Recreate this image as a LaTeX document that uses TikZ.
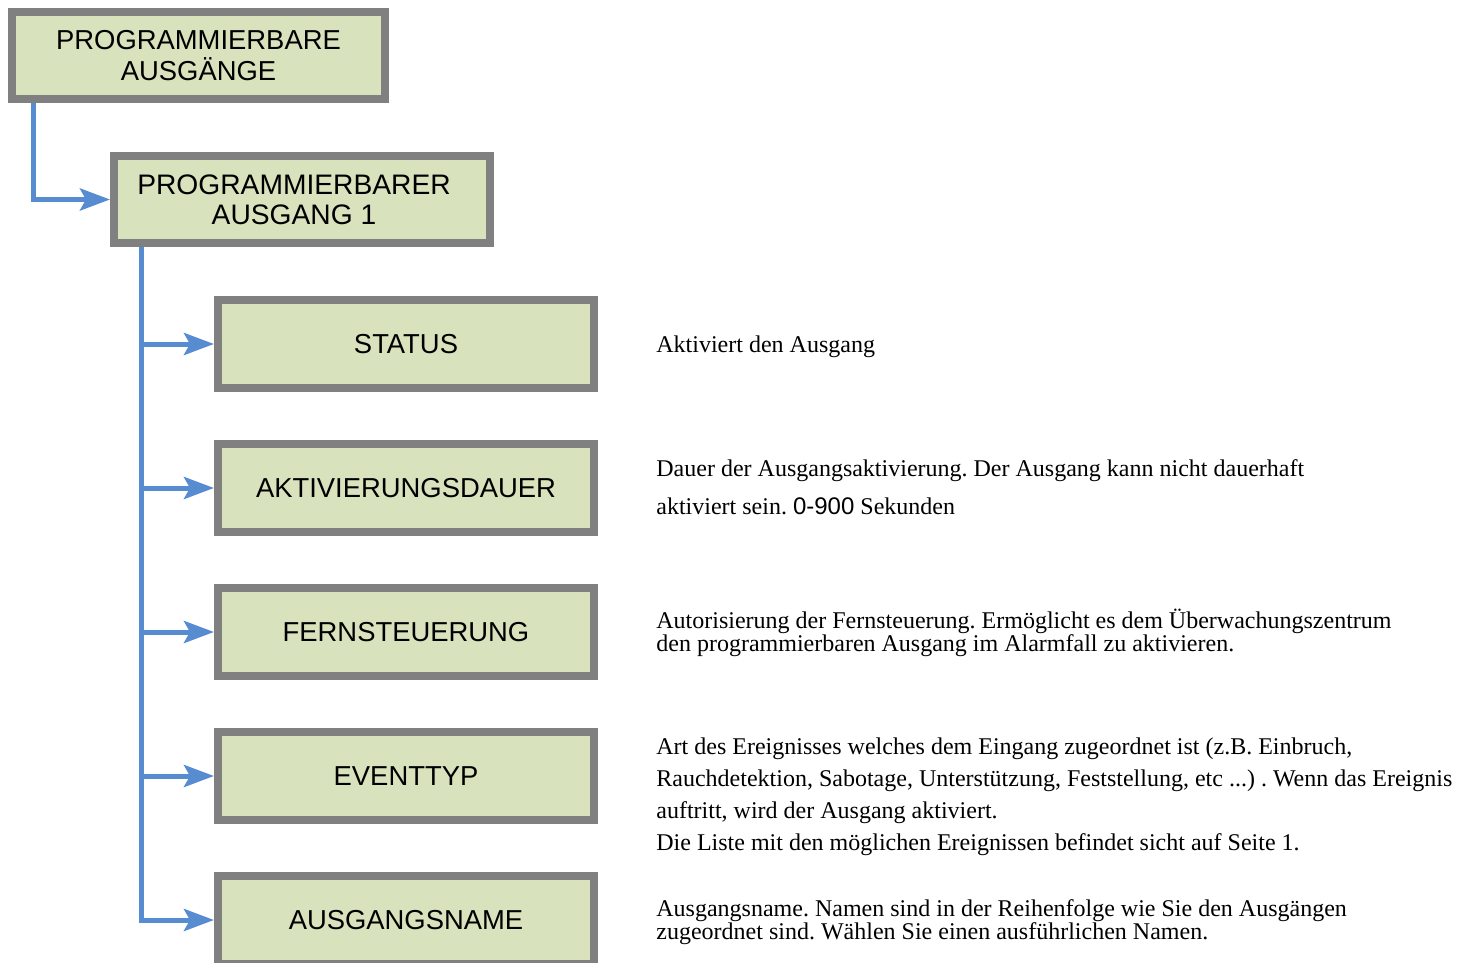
\documentclass[tikz,border=0pt]{standalone}
\usepackage{fontspec}
\setmainfont{Liberation Serif}
\newfontfamily\boxfont{Liberation Sans}
\usetikzlibrary{arrows.meta}
\definecolor{boxfill}{RGB}{216,226,188}
\definecolor{boxline}{RGB}{128,128,128}
\definecolor{linkblue}{RGB}{88,140,208}
\frenchspacing
\begin{document}
\begin{tikzpicture}
	[x=0.5pt,y=-0.5pt,
	box/.style={rectangle,draw=boxline,fill=boxfill,line width=4pt,minimum width=188pt,minimum height=44pt,align=center,
		font=\boxfont\fontsize{13.7pt}{15.2pt}\selectfont},
	desc/.style={inner sep=0pt,anchor=base west,align=left,font=\fontsize{12pt}{#1}\selectfont},
	link/.style={draw=linkblue,line width=2.5pt,-{Stealth[length=15pt,width=11pt,inset=3pt]}}
	]
	\useasboundingbox (0,0) rectangle (1463,963);
	\node[box,minimum width=186.5pt,minimum height=43.5pt] (top) at (198.5,55.5){PROGRAMMIERBARE\\AUSGÄNGE};
	\node[box,minimum height=43.5pt,font=\boxfont\fontsize{14.1pt}{15.2pt}\selectfont] (out1) at (302,199.5){PROGRAMMIERBARER\hspace*{8pt}\\AUSGANG 1\hspace*{8pt}};
	\node[box] (status) at (406,344){STATUS};
	\node[box] (dauer) at (406,488){AKTIVIERUNGSDAUER};
	\node[box] (fern) at (406,632){FERNSTEUERUNG};
	\node[box] (event) at (406,776){EVENTTYP};
	\node[box] (name) at (406,920){AUSGANGSNAME};

	\draw[link] ([xshift=12.5pt]top.south west) |- (out1.west);
	\foreach \n in {status,dauer,fern,event,name}
		\draw[link] ([xshift=15.5pt]out1.south west) |- (\n.west);

% base anchor sits on the last line
\node[desc=14pt] (dstatus) at (656,352){Aktiviert den Ausgang};
\node[desc=19pt] (ddauer) at (656,514){Dauer der Ausgangsaktivierung. Der Ausgang kann nicht dauerhaft\\aktiviert sein. {\boxfont 0-900} Sekunden};
\node[desc=11.5pt] (dfern) at (656,651){Autorisierung der Fernsteuerung. Ermöglicht es dem Überwachungszentrum\\den programmierbaren Ausgang im Alarmfall zu aktivieren.};
\node[desc=16pt] (devent) at (656,850){Art des Ereignisses welches dem Eingang zugeordnet ist (z.B. Einbruch,\\Rauchdetektion, Sabotage, Unterstützung, Feststellung, etc ...) . Wenn das Ereignis\\auftritt, wird der Ausgang aktiviert.\\Die Liste mit den möglichen Ereignissen befindet sicht auf Seite 1.};
\node[desc=11.5pt] (dname) at (656,939){Ausgangsname. Namen sind in der Reihenfolge wie Sie den Ausgängen\\zugeordnet sind. Wählen Sie einen ausführlichen Namen.};
\end{tikzpicture}
\end{document}
